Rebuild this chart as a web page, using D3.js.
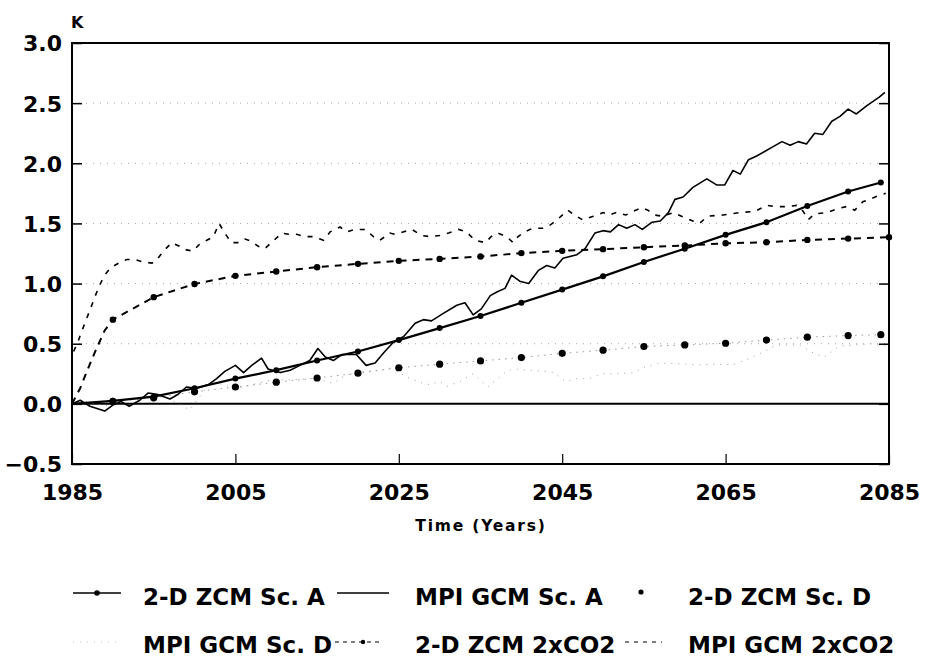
<!DOCTYPE html>
<html>
<head>
<meta charset="utf-8">
<script src="https://cdn.jsdelivr.net/npm/d3@7"></script>
<style>
  html, body { margin: 0; padding: 0; background: #fff; }
  svg { display: block; }
  text { font-family: "DejaVu Sans", "Liberation Sans", sans-serif; font-weight: bold; fill: #000; }
</style>
</head>
<body>
<svg id="chart" width="925" height="658"></svg>
<script>
// ---------------- DATA ----------------
const xTicks = [1985, 2005, 2025, 2045, 2065, 2085];
const yTicks = [-0.5, 0.0, 0.5, 1.0, 1.5, 2.0, 2.5, 3.0];
const gridValues = [0.5, 1.0, 1.5, 2.0, 2.5];

// 2-D ZCM Scenario A (5-yearly model output)
const zcmAYears  = [1985, 1990, 1995, 2000, 2005, 2010, 2015, 2020, 2025, 2030, 2035, 2040, 2045, 2050, 2055, 2060, 2065, 2070, 2075, 2080, 2084];
const zcmAValues = [0.00, 0.025, 0.06, 0.13, 0.21, 0.28, 0.36, 0.435, 0.53, 0.63, 0.73, 0.84, 0.95, 1.06, 1.18, 1.29, 1.405, 1.51, 1.645, 1.765, 1.84];

// MPI GCM Scenario A
const mpiAYears  = [1985, 1986, 1987.2, 1989, 1990, 1991, 1992, 1993.3, 1994.3, 1995.4, 1997, 1998, 1999, 2000.3, 2001.7, 2002.7, 2003.7, 2005, 2006, 2007, 2008.2, 2009, 2010.5, 2011.7, 2012.9, 2014.1, 2015.1, 2016, 2017, 2018, 2019.8, 2021, 2022.1, 2023.1, 2024.3, 2025.6, 2027, 2028, 2029, 2030.4, 2032.1, 2033.1, 2034.1, 2035.1, 2036.2, 2037, 2038, 2038.8, 2039.8, 2040.9, 2042.1, 2043.1, 2044.1, 2045.1, 2046.8, 2047.8, 2049, 2050, 2050.9, 2051.9, 2052.9, 2053.9, 2054.8, 2056, 2057, 2058, 2058.8, 2059.8, 2061, 2062.7, 2063.9, 2064.9, 2065.9, 2066.8, 2067.8, 2068.8, 2070.6, 2071.9, 2072.9, 2073.9, 2074.9, 2075.9, 2076.9, 2078, 2079, 2080, 2081, 2082.3, 2083.8, 2084.5];
const mpiAValues = [0.00, 0.03, -0.02, -0.06, -0.01, 0.02, -0.02, 0.03, 0.09, 0.08, 0.04, 0.08, 0.14, 0.13, 0.16, 0.21, 0.27, 0.32, 0.26, 0.32, 0.38, 0.29, 0.26, 0.28, 0.32, 0.36, 0.46, 0.39, 0.36, 0.41, 0.41, 0.32, 0.34, 0.42, 0.51, 0.56, 0.67, 0.70, 0.69, 0.75, 0.82, 0.84, 0.74, 0.79, 0.90, 0.93, 0.96, 1.07, 1.02, 1.00, 1.11, 1.15, 1.13, 1.21, 1.24, 1.29, 1.42, 1.44, 1.43, 1.49, 1.46, 1.49, 1.45, 1.51, 1.52, 1.59, 1.70, 1.72, 1.80, 1.87, 1.82, 1.82, 1.94, 1.91, 2.03, 2.06, 2.13, 2.18, 2.15, 2.18, 2.16, 2.25, 2.24, 2.35, 2.39, 2.45, 2.41, 2.48, 2.55, 2.59];

// 2-D ZCM Scenario D (5-yearly)
const zcmDYears  = [1985, 1990, 1995, 2000, 2005, 2010, 2015, 2020, 2025, 2030, 2035, 2040, 2045, 2050, 2055, 2060, 2065, 2070, 2075, 2080, 2084];
const zcmDValues = [0.00, 0.02, 0.05, 0.10, 0.14, 0.18, 0.215, 0.255, 0.30, 0.33, 0.357, 0.385, 0.42, 0.446, 0.477, 0.49, 0.504, 0.53, 0.554, 0.568, 0.575];

// MPI GCM Scenario D
const mpiDYears  = [1985, 1987, 1989, 1991, 1993, 1995, 1997, 1999.4, 2000.5, 2002.1, 2004, 2005.2, 2006.4, 2007.6, 2009.6, 2011.7, 2012.9, 2014.1, 2015.4, 2017, 2018, 2019.4, 2021, 2022.7, 2024.3, 2026, 2026.8, 2028, 2028.8, 2030, 2030.9, 2032.5, 2034.1, 2035.9, 2037.9, 2038.9, 2041, 2043, 2044, 2045.4, 2046.9, 2048.3, 2049.9, 2052, 2053.8, 2054.8, 2057, 2060, 2061.8, 2063.8, 2065.9, 2068, 2069.9, 2071.2, 2074, 2076.1, 2077.1, 2078.9, 2081, 2083, 2084.6];
const mpiDValues = [0.00, 0.02, -0.02, 0.03, 0.05, 0.07, 0.04, -0.05, 0.05, 0.186, 0.15, 0.13, 0.146, 0.17, 0.20, 0.20, 0.205, 0.21, 0.20, 0.17, 0.22, 0.255, 0.27, 0.28, 0.30, 0.22, 0.20, 0.17, 0.16, 0.185, 0.145, 0.186, 0.25, 0.14, 0.255, 0.29, 0.28, 0.27, 0.26, 0.186, 0.21, 0.21, 0.25, 0.25, 0.26, 0.30, 0.34, 0.33, 0.325, 0.33, 0.325, 0.38, 0.44, 0.49, 0.49, 0.41, 0.39, 0.48, 0.49, 0.50, 0.485];

// 2-D ZCM 2xCO2
const zcm2Years  = [1985, 1986, 1987, 1988, 1989, 1990, 1995, 2000, 2005, 2010, 2015, 2020, 2025, 2030, 2035, 2040, 2045, 2050, 2055, 2060, 2065, 2070, 2075, 2080, 2085];
const zcm2Values = [0.00, 0.13, 0.30, 0.46, 0.61, 0.70, 0.887, 0.997, 1.064, 1.10, 1.136, 1.164, 1.189, 1.205, 1.225, 1.253, 1.272, 1.286, 1.302, 1.316, 1.335, 1.343, 1.363, 1.374, 1.385];

// MPI GCM 2xCO2
const mpi2Years  = [1985.2, 1985.8, 1986.4, 1987.2, 1987.8, 1988.4, 1989, 1989.7, 1990.7, 1991.7, 1992.7, 1993.7, 1994.8, 1995.4, 1996.2, 1997.2, 1998.2, 1999, 1999.8, 2000.5, 2001.5, 2002.3, 2003, 2003.7, 2004.5, 2005.4, 2006.2, 2007, 2007.8, 2008.6, 2009.4, 2010.7, 2011.5, 2012.5, 2013.5, 2014.5, 2015.8, 2016.6, 2017.8, 2018.6, 2019.6, 2020.9, 2021.9, 2022.7, 2023.9, 2024.5, 2025.6, 2026.6, 2027.8, 2028.8, 2030, 2031.1, 2032.3, 2033.3, 2034.3, 2035.6, 2036.3, 2037.1, 2038.2, 2039, 2039.6, 2040.4, 2041.4, 2042.6, 2043.6, 2044.2, 2045.7, 2046.5, 2047.5, 2048.8, 2050, 2050.8, 2051.6, 2052.8, 2053.7, 2054.7, 2055.5, 2056.3, 2057.3, 2058.6, 2059.6, 2061, 2061.8, 2062.8, 2064.7, 2066.7, 2068.6, 2070, 2071.2, 2072.5, 2073.7, 2074.5, 2075.1, 2075.9, 2077.4, 2078.6, 2079.8, 2080.8, 2081.8, 2083.7, 2084.6];
const mpi2Values = [0.435, 0.53, 0.64, 0.78, 0.89, 0.99, 1.07, 1.13, 1.17, 1.20, 1.20, 1.18, 1.17, 1.20, 1.27, 1.34, 1.31, 1.28, 1.27, 1.32, 1.36, 1.39, 1.50, 1.42, 1.34, 1.34, 1.37, 1.35, 1.31, 1.29, 1.34, 1.42, 1.41, 1.41, 1.39, 1.39, 1.36, 1.43, 1.47, 1.43, 1.45, 1.45, 1.39, 1.36, 1.42, 1.41, 1.43, 1.45, 1.40, 1.39, 1.40, 1.42, 1.45, 1.43, 1.36, 1.34, 1.39, 1.42, 1.39, 1.34, 1.39, 1.43, 1.46, 1.46, 1.49, 1.52, 1.61, 1.57, 1.53, 1.56, 1.59, 1.57, 1.59, 1.57, 1.60, 1.63, 1.61, 1.57, 1.56, 1.59, 1.56, 1.52, 1.50, 1.56, 1.57, 1.59, 1.60, 1.65, 1.64, 1.64, 1.65, 1.60, 1.53, 1.58, 1.59, 1.62, 1.64, 1.61, 1.68, 1.73, 1.75];

const legendLabels = ["2-D ZCM Sc. A", "MPI GCM Sc. A", "2-D ZCM Sc. D", "MPI GCM Sc. D", "2-D ZCM 2xCO2", "MPI GCM 2xCO2"];
const yUnit = "K";
const xTitle = "Time (Years)";

// ---------------- DRAWING ----------------
const svg = d3.select("#chart");
const L = 72, R = 889, T = 43, B = 464;
const x = d3.scaleLinear().domain([1985, 2085]).range([L, R]);
const y = d3.scaleLinear().domain([-0.5, 3.0]).range([B, T]);

const zip = (xs, vs) => xs.map((d, i) => ({ year: d, v: vs[i] }));
const line = d3.line().x(d => x(d.year)).y(d => y(d.v));

// gridlines (faint dotted)
svg.append("g").selectAll("line").data(gridValues).join("line")
  .attr("x1", L).attr("x2", R).attr("y1", d => y(d)).attr("y2", d => y(d))
  .attr("stroke", "#a8a8a8").attr("stroke-width", 1).attr("stroke-dasharray", "1,6");

// zero line
svg.append("line").attr("x1", L).attr("x2", R).attr("y1", y(0)).attr("y2", y(0))
  .attr("stroke", "#000").attr("stroke-width", 2);

// axes with inward ticks
const yLeft = d3.axisLeft(y).tickValues(yTicks).tickSize(-10).tickFormat(d3.format(".1f")).tickPadding(20);
const gL = svg.append("g").attr("transform", `translate(${L},0)`).call(yLeft);
gL.select(".domain").remove();
gL.selectAll("text").attr("font-size", 22).attr("x", -10).attr("dy", "0.36em").style("font-family", "DejaVu Sans").style("font-weight", "bold");
gL.selectAll("line").attr("stroke", "#000").attr("stroke-width", 1.5);

const yRight = d3.axisRight(y).tickValues(yTicks).tickSize(-10).tickFormat("");
const gR = svg.append("g").attr("transform", `translate(${R},0)`).call(yRight);
gR.select(".domain").remove();
gR.selectAll("line").attr("stroke", "#000").attr("stroke-width", 1.5);

const xBottom = d3.axisBottom(x).tickValues(xTicks).tickSize(-10).tickFormat(d3.format("d"));
const gB = svg.append("g").attr("transform", `translate(0,${B})`).call(xBottom);
gB.select(".domain").remove();
gB.selectAll("line").attr("stroke", "#000").attr("stroke-width", 1.2);
gB.selectAll("text").attr("font-size", 22).attr("y", 36).attr("dy", 0).style("font-family", "DejaVu Sans").style("font-weight", "bold");

// frame
svg.append("rect").attr("x", L).attr("y", T).attr("width", R - L).attr("height", B - T)
  .attr("fill", "none").attr("stroke", "#000").attr("stroke-width", 2);

// unit label
svg.append("text").attr("x", L - 1).attr("y", 28).attr("font-size", 16).text(yUnit);
// x title
svg.append("text").attr("x", 481).attr("y", 531).attr("text-anchor", "middle")
  .attr("font-size", 15.5).attr("letter-spacing", 1.8).text(xTitle);

const plot = svg.append("g");

// MPI GCM Sc. D (faint dotted)
plot.append("path").datum(zip(mpiDYears, mpiDValues)).attr("d", line)
  .attr("fill", "none").attr("stroke", "#a0a0a0").attr("stroke-width", 1).attr("stroke-dasharray", "1,6");

// 2-D ZCM Sc. D faint connector + dots
const zcmD = zip(zcmDYears, zcmDValues);
plot.append("path").datum(zcmD).attr("d", line)
  .attr("fill", "none").attr("stroke", "#9a9a9a").attr("stroke-width", 1).attr("stroke-dasharray", "1.5,5");
plot.append("g").selectAll("circle").data(zcmD.filter(d => d.year > 1985)).join("circle")
  .attr("cx", d => x(d.year)).attr("cy", d => y(d.v)).attr("r", 3.6).attr("fill", "#000");

// MPI GCM 2xCO2 (dashed)
plot.append("path").datum(zip(mpi2Years, mpi2Values)).attr("d", line)
  .attr("fill", "none").attr("stroke", "#000").attr("stroke-width", 1.6).attr("stroke-dasharray", "5,7");

// 2-D ZCM 2xCO2 (dashed with dots)
const zcm2 = zip(zcm2Years, zcm2Values);
plot.append("path").datum(zcm2).attr("d", line)
  .attr("fill", "none").attr("stroke", "#000").attr("stroke-width", 2).attr("stroke-dasharray", "7,6");
plot.append("g").selectAll("circle").data(zcm2.filter(d => d.year % 5 === 0 && d.year > 1985)).join("circle")
  .attr("cx", d => x(d.year)).attr("cy", d => y(d.v)).attr("r", 3.2).attr("fill", "#000");

// MPI GCM Sc. A (solid jagged)
plot.append("path").datum(zip(mpiAYears, mpiAValues)).attr("d", line)
  .attr("fill", "none").attr("stroke", "#000").attr("stroke-width", 1.6).attr("stroke-linejoin", "round");

// 2-D ZCM Sc. A (solid with dots)
const zcmA = zip(zcmAYears, zcmAValues);
plot.append("path").datum(zcmA).attr("d", line)
  .attr("fill", "none").attr("stroke", "#000").attr("stroke-width", 2.2);
plot.append("g").selectAll("circle").data(zcmA.filter(d => d.year > 1985)).join("circle")
  .attr("cx", d => x(d.year)).attr("cy", d => y(d.v)).attr("r", 3).attr("fill", "#000");

// ---------------- LEGEND ----------------
const symX = [73, 337, 625];
const txtX = [143, 415, 688];
const symY = [593, 642];
const txtY = [605, 653];
const lg = svg.append("g");
function legendText(i, col, row) {
  lg.append("text").attr("x", txtX[col]).attr("y", txtY[row]).attr("font-size", 23).text(legendLabels[i]);
}
// row 1
lg.append("line").attr("x1", symX[0]).attr("x2", symX[0] + 48).attr("y1", symY[0]).attr("y2", symY[0]).attr("stroke", "#000").attr("stroke-width", 1.5);
lg.append("circle").attr("cx", symX[0] + 24).attr("cy", symY[0]).attr("r", 2.8).attr("fill", "#000");
legendText(0, 0, 0);
lg.append("line").attr("x1", symX[1]).attr("x2", symX[1] + 52).attr("y1", symY[0]).attr("y2", symY[0]).attr("stroke", "#000").attr("stroke-width", 1.5);
legendText(1, 1, 0);
lg.append("circle").attr("cx", 641).attr("cy", symY[0] - 1).attr("r", 2.6).attr("fill", "#000");
legendText(2, 2, 0);
// row 2
lg.append("line").attr("x1", symX[0]).attr("x2", symX[0] + 47).attr("y1", symY[1]).attr("y2", symY[1]).attr("stroke", "#c8c8c8").attr("stroke-width", 1).attr("stroke-dasharray", "1,6");
legendText(3, 0, 1);
lg.append("line").attr("x1", symX[1] - 2).attr("x2", symX[1] + 45).attr("y1", symY[1]).attr("y2", symY[1]).attr("stroke", "#000").attr("stroke-width", 1.2).attr("stroke-dasharray", "4,4");
lg.append("circle").attr("cx", symX[1] + 26).attr("cy", symY[1]).attr("r", 2.2).attr("fill", "#000");
legendText(4, 1, 1);
lg.append("line").attr("x1", symX[2]).attr("x2", symX[2] + 37).attr("y1", symY[1]).attr("y2", symY[1]).attr("stroke", "#000").attr("stroke-width", 1.2).attr("stroke-dasharray", "4,5");
legendText(5, 2, 1);
</script>
</body>
</html>
